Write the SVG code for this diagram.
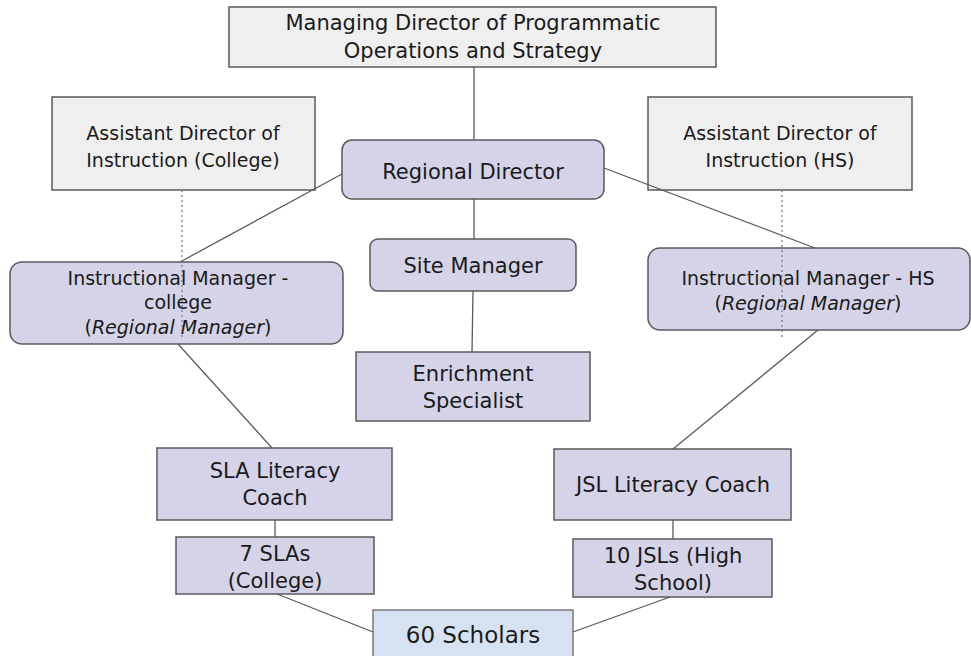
<svg xmlns="http://www.w3.org/2000/svg" width="971" height="656" viewBox="0 0 971 656">
<style>
text{font-family:"DejaVu Sans","Liberation Sans",sans-serif;font-size:21px;fill:#1a1a1a;text-anchor:middle;}
.s19{font-size:19px;}
.s23{font-size:23px;}
.gray{fill:#efefef;stroke:#5a5a5a;stroke-width:1.5;}
.lav{fill:#d5d3e8;stroke:#5a5a5a;stroke-width:1.5;}
.blue{fill:#d6e2f1;stroke:#7a7a7a;stroke-width:1.5;}
.ln{stroke:#5a5a5a;stroke-width:1.3;fill:none;}
.dot{stroke:#777;stroke-width:1.2;stroke-dasharray:2 3;fill:none;}
.it{font-style:italic;}
</style>
<rect width="971" height="656" fill="#ffffff"/>
<g id="md">
<rect class="gray" x="229" y="7" width="487" height="60"/>
<text x="473" y="30">Managing Director of Programmatic</text>
<text x="473" y="58">Operations and Strategy</text>
</g>
<g id="ad-college">
<rect class="gray" x="52" y="97" width="263" height="93"/>
<text class="s19" x="183" y="140">Assistant Director of</text>
<text class="s19" x="183" y="167">Instruction (College)</text>
</g>
<g id="ad-hs">
<rect class="gray" x="648" y="97" width="264" height="93"/>
<text class="s19" x="780" y="140">Assistant Director of</text>
<text class="s19" x="780" y="167">Instruction (HS)</text>
</g>
<g id="regional-director">
<rect class="lav" x="342" y="140" width="262" height="59" rx="10"/>
<text x="473" y="179">Regional Director</text>
</g>
<g id="im-college">
<rect class="lav" x="10" y="262" width="333" height="82" rx="12"/>
<text class="s19" x="178" y="285">Instructional Manager -</text>
<text class="s19" x="178" y="309">college</text>
<text class="s19" x="178" y="334">(<tspan class="it">Regional Manager</tspan>)</text>
</g>
<g id="site-manager">
<rect class="lav" x="370" y="239" width="206" height="52" rx="8"/>
<text x="473" y="273">Site Manager</text>
</g>
<g id="im-hs">
<rect class="lav" x="648" y="248" width="322" height="82" rx="12"/>
<text class="s19" x="808" y="285">Instructional Manager - HS</text>
<text class="s19" x="808" y="310">(<tspan class="it">Regional Manager</tspan>)</text>
</g>
<g id="enrichment">
<rect class="lav" x="356" y="352" width="234" height="69"/>
<text x="473" y="381">Enrichment</text>
<text x="473" y="408">Specialist</text>
</g>
<g id="sla-coach">
<rect class="lav" x="157" y="448" width="235" height="72"/>
<text x="275" y="478">SLA Literacy</text>
<text x="275" y="505">Coach</text>
</g>
<g id="jsl-coach">
<rect class="lav" x="554" y="449" width="237" height="71"/>
<text x="673" y="492">JSL Literacy Coach</text>
</g>
<g id="slas">
<rect class="lav" x="176" y="537" width="198" height="57"/>
<text x="275" y="561">7 SLAs</text>
<text x="275" y="588">(College)</text>
</g>
<g id="jsls">
<rect class="lav" x="573" y="539" width="199" height="58"/>
<text x="673" y="563">10 JSLs (High</text>
<text x="673" y="590">School)</text>
</g>
<g id="scholars">
<rect class="blue" x="373" y="610" width="200" height="50"/>
<text class="s23" x="473" y="643">60 Scholars</text>
</g>
<g id="connectors">
<line class="ln" x1="474" y1="67" x2="474" y2="140"/>
<line class="ln" x1="342" y1="174" x2="180" y2="262"/>
<line class="ln" x1="604" y1="168" x2="815" y2="248"/>
<line class="ln" x1="474" y1="199" x2="474" y2="239"/>
<line class="ln" x1="473" y1="291" x2="472" y2="352"/>
<line class="ln" x1="178" y1="344" x2="272" y2="448"/>
<line class="ln" x1="818" y1="330" x2="673" y2="449"/>
<line class="ln" x1="275" y1="520" x2="275" y2="537"/>
<line class="ln" x1="673" y1="520" x2="673" y2="539"/>
<line class="ln" x1="277" y1="594" x2="373" y2="632"/>
<line class="ln" x1="670" y1="597" x2="573" y2="632"/>
<line class="dot" x1="182" y1="190" x2="182" y2="338"/>
<line class="dot" x1="782" y1="190" x2="782" y2="338"/>
</g>
</svg>
